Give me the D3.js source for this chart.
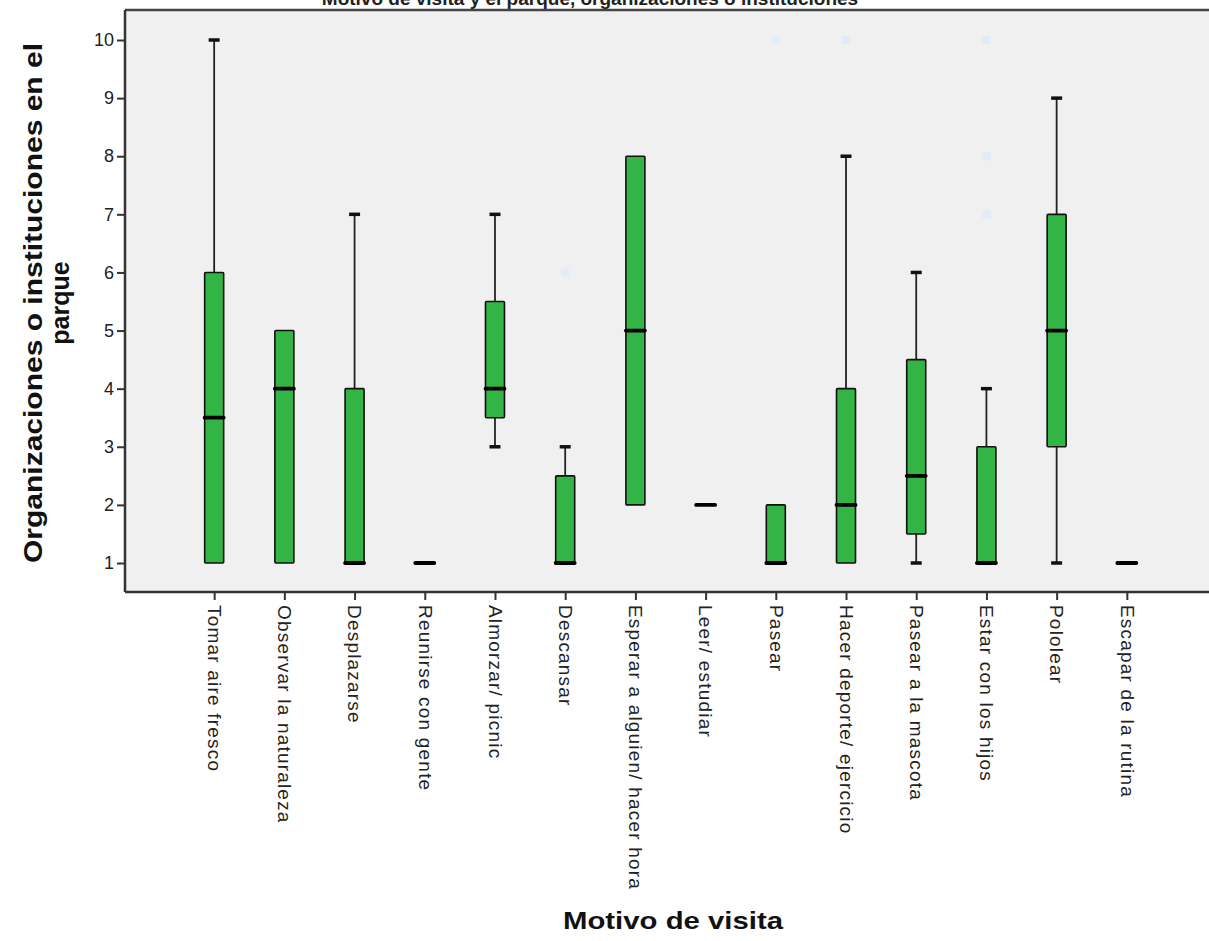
<!DOCTYPE html>
<html><head><meta charset="utf-8">
<script src="https://cdn.jsdelivr.net/npm/d3@7"></script>
<style>body{margin:0;background:#fff}svg{display:block}</style>
</head><body>
<svg id="c" width="1209" height="941"></svg>
<script>
const categories = ["Tomar aire fresco","Observar la naturaleza","Desplazarse","Reunirse con gente","Almorzar/ picnic","Descansar","Esperar a alguien/ hacer hora","Leer/ estudiar","Pasear","Hacer deporte/ ejercicio","Pasear a la mascota","Estar con los hijos","Pololear","Escapar de la rutina"];
const whiskerLow  = [1, 1, 1, 1, 3,   1,   2, 2, 1, 1, 1,   1, 1, 1];
const q1          = [1, 1, 1, 1, 3.5, 1,   2, 2, 1, 1, 1.5, 1, 3, 1];
const median      = [3.5, 4, 1, 1, 4, 1,   5, 2, 1, 2, 2.5, 1, 5, 1];
const q3          = [6, 5, 4, 1, 5.5, 2.5, 8, 2, 2, 4, 4.5, 3, 7, 1];
const whiskerHigh = [10, 5, 7, 1, 7, 3,    8, 2, 2, 8, 6,   4, 9, 1];
const outliers = [["Descansar",6],["Pasear",10],["Hacer deporte/ ejercicio",10],["Estar con los hijos",10],["Estar con los hijos",8],["Estar con los hijos",7]];
const yTicks = [1,2,3,4,5,6,7,8,9,10];

const svg = d3.select("#c");
const L = 125, T = 10, B = 592, R = 1216;
const x = d3.scalePoint().domain(categories).range([L, R]).padding(1.27);
const y = d3.scaleLinear().domain([1, 10]).range([563, 40]);
const fontFam = "Liberation Sans, Arial, sans-serif";

// background
svg.append("rect").attr("x", L).attr("y", T).attr("width", 1209 - L).attr("height", B - T).attr("fill", "#f0f0f0");

// title (cut off at the top edge, as in the reference)
svg.append("text").attr("x", 590).attr("y", 5).attr("text-anchor", "middle")
  .attr("font-family", fontFam).attr("font-size", 19).attr("font-weight", "bold")
  .attr("fill", "#222").text("Motivo de visita y el parque, organizaciones o instituciones");

const boxW = 19, capW = 11;
const g = svg.append("g");
categories.forEach((c, i) => {
  const cx = x(c);
  if (whiskerHigh[i] > q3[i]) {
    g.append("line").attr("x1", cx).attr("x2", cx).attr("y1", y(q3[i])).attr("y2", y(whiskerHigh[i])).attr("stroke", "#222").attr("stroke-width", 1.8);
    g.append("line").attr("x1", cx - capW/2).attr("x2", cx + capW/2).attr("y1", y(whiskerHigh[i])).attr("y2", y(whiskerHigh[i])).attr("stroke", "#111").attr("stroke-width", 3.5);
  }
  if (whiskerLow[i] < q1[i]) {
    g.append("line").attr("x1", cx).attr("x2", cx).attr("y1", y(q1[i])).attr("y2", y(whiskerLow[i])).attr("stroke", "#222").attr("stroke-width", 1.8);
    g.append("line").attr("x1", cx - capW/2).attr("x2", cx + capW/2).attr("y1", y(whiskerLow[i])).attr("y2", y(whiskerLow[i])).attr("stroke", "#111").attr("stroke-width", 3.5);
  }
  if (q3[i] > q1[i]) {
    g.append("rect").attr("x", cx - boxW/2).attr("y", y(q3[i])).attr("width", boxW).attr("height", y(q1[i]) - y(q3[i]))
      .attr("fill", "#33b545").attr("stroke", "#111").attr("stroke-width", 1.6).attr("rx", 1);
  }
  g.append("line").attr("x1", cx - boxW/2).attr("x2", cx + boxW/2).attr("y1", y(median[i])).attr("y2", y(median[i]))
    .attr("stroke", "#000").attr("stroke-width", 3.8).attr("stroke-linecap", "round");
});

// outliers (faint)
svg.append("g").selectAll("rect").data(outliers).join("rect")
  .attr("x", d => x(d[0]) - 4).attr("y", d => y(d[1]) - 4).attr("width", 8).attr("height", 8)
  .attr("fill", "#e0eaf8").attr("opacity", 0.9);

// axes
const yAxis = svg.append("g").attr("transform", `translate(${L},0)`)
  .call(d3.axisLeft(y).tickValues(yTicks).tickSize(8).tickSizeOuter(0).tickPadding(3));
yAxis.select(".domain").remove();
yAxis.selectAll("line").attr("stroke", "#333").attr("stroke-width", 2);
yAxis.selectAll("text").attr("font-family", fontFam).attr("font-size", 18).attr("fill", "#222");

const xAxis = svg.append("g").attr("transform", `translate(0,${B})`)
  .call(d3.axisBottom(x).tickSize(8).tickSizeOuter(0));
xAxis.select(".domain").remove();
xAxis.selectAll("line").attr("stroke", "#333").attr("stroke-width", 2);
xAxis.selectAll("text").attr("font-family", fontFam).attr("font-size", 19).attr("fill", "#222")
  .attr("letter-spacing", "1.2px")
  .attr("transform", "rotate(90)").attr("text-anchor", "start").attr("x", 13).attr("y", 0).attr("dy", "0.35em");

// frame lines
svg.append("line").attr("x1", L).attr("x2", 1209).attr("y1", T).attr("y2", T).attr("stroke", "#444").attr("stroke-width", 2.5);
svg.append("line").attr("x1", L).attr("x2", L).attr("y1", T).attr("y2", B).attr("stroke", "#333").attr("stroke-width", 2.5);
svg.append("line").attr("x1", L).attr("x2", 1209).attr("y1", B).attr("y2", B).attr("stroke", "#333").attr("stroke-width", 2.5);

// axis titles
const yt = svg.append("text").attr("transform", "translate(42,303) rotate(-90)")
  .attr("text-anchor", "middle").attr("font-family", fontFam).attr("font-weight", "bold").attr("font-size", 25).attr("fill", "#111");
yt.append("tspan").attr("x", 0).attr("y", 0).attr("textLength", 520).attr("lengthAdjust", "spacingAndGlyphs").text("Organizaciones o instituciones en el");
yt.append("tspan").attr("x", 0).attr("y", 27).text("parque");

svg.append("text").attr("x", 673).attr("y", 929).attr("text-anchor", "middle")
  .attr("font-family", fontFam).attr("font-weight", "bold").attr("font-size", 24).attr("fill", "#111")
  .attr("textLength", 220).attr("lengthAdjust", "spacingAndGlyphs").text("Motivo de visita");
</script>
</body></html>
